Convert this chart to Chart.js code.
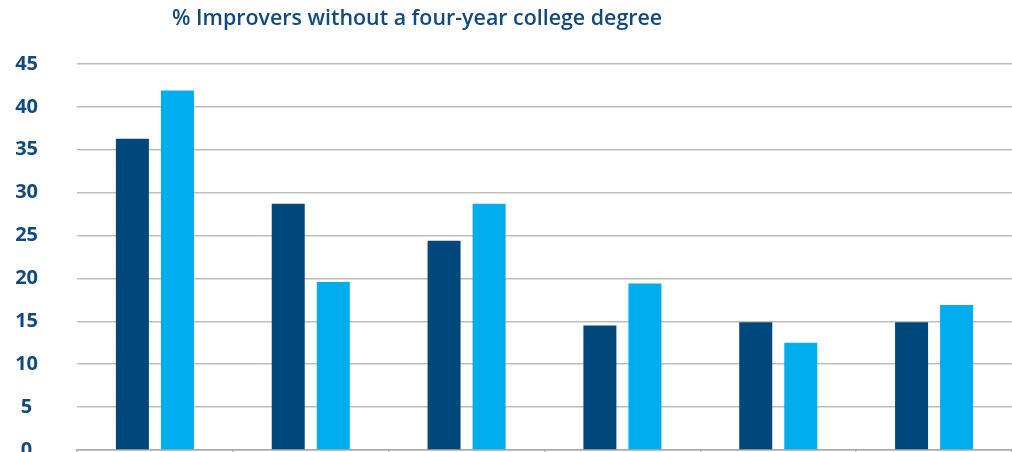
<!DOCTYPE html>
<html>
<head>
<meta charset="utf-8">
<script src="https://cdn.jsdelivr.net/npm/chart.js@4"></script>
<style>
  html, body { margin: 0; padding: 0; background: #fff; }
  #wrap { width: 1012px; height: 452px; position: relative; }
</style>
</head>
<body>
<div id="wrap"><canvas id="bars"></canvas></div>
<script>
// values (category names are cut off in the reference)
const categories = ["Group 1", "Group 2", "Group 3", "Group 4", "Group 5", "Group 6"];
const darkSeries = [36.3, 28.7, 24.4, 14.5, 14.9, 14.9];
const lightSeries = [41.9, 19.6, 28.7, 19.4, 12.5, 16.9];
const yTicks = [0, 5, 10, 15, 20, 25, 30, 35, 40, 45];
const titleText = "% Improvers without a four-year college degree";

const navy = "#00487c";
const sky = "#00adef";
const textBlue = "#114a7e";

// title drawn left of centre like the reference
const titlePlugin = {
  id: "leftTitle",
  afterDraw(chart) {
    let ctx = chart.ctx;
    ctx.save();
    ctx.font = "600 21.4px 'Open Sans'";
    ctx.fillStyle = textBlue;
    ctx.textBaseline = "middle";
    ctx.textAlign = "left";
    ctx.fillText(titleText, 172, 19);
    ctx.restore();
  },
};

let barsIs = document.getElementById("bars");
new Chart(barsIs, {
  type: "bar",
  data: {
    labels: categories,
    datasets: [
      {
        label: "Series 1",
        data: darkSeries,
        backgroundColor: navy,
        categoryPercentage: 0.578,
        barPercentage: 0.733,
      },
      {
        label: "Series 2",
        data: lightSeries,
        backgroundColor: sky,
        categoryPercentage: 0.578,
        barPercentage: 0.733,
      },
    ],
  },
  options: {
    responsive: true,
    maintainAspectRatio: false,
    animation: false,
    layout: { padding: { top: 64, right: 0, bottom: 0, left: 0 } },
    plugins: {
      legend: { display: false },
      title: { display: false },
      tooltip: { enabled: false },
    },
    scales: {
      x: {
        ticks: { display: false },
        grid: {
          offset: true,
          drawOnChartArea: false,
          drawTicks: true,
          tickLength: 2,
          color: "#a8a8a8",
          lineWidth: 1.5,
        },
        border: { display: true, color: "#a8a8a8", width: 1.5 },
      },
      y: {
        min: 0,
        max: 45,
        afterBuildTicks(scale) {
          scale.ticks = yTicks.map((v) => ({ value: v }));
        },
        afterFit(scale) {
          scale.width = 77;
          scale.paddingTop = 0;
          scale.paddingBottom = 0;
        },
        ticks: {
          crossAlign: "center",
          padding: 39,
          color: textBlue,
          font: { family: "'Open Sans'", size: 20, weight: "700" },
        },
        grid: {
          drawTicks: false,
          color: "#bdbdbd",
          lineWidth: 1.6,
        },
        border: { display: false },
      },
    },
  },
  plugins: [titlePlugin],
});
</script>
</body>
</html>
